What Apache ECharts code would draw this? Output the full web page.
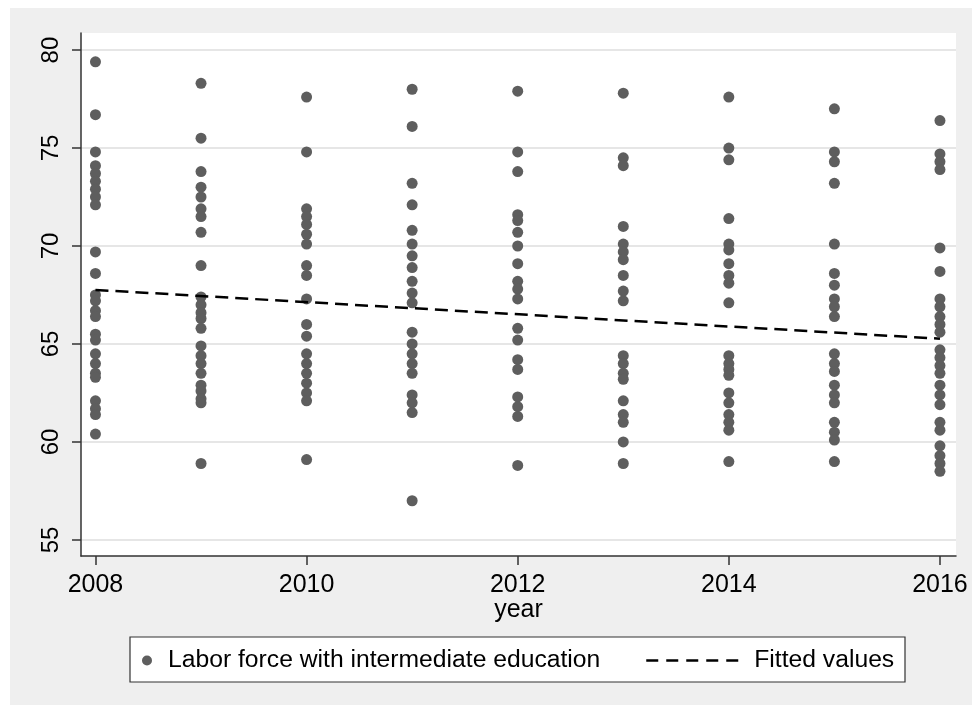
<!DOCTYPE html>
<html>
<head>
<meta charset="utf-8">
<script src="https://cdn.jsdelivr.net/npm/echarts@6/dist/echarts.min.js"></script>
<style>
html,body{margin:0;padding:0;background:#fff;}
#chart{width:972px;height:709px;}
</style>
</head>
<body>
<div id="chart"></div>
<script>
// ---- data ----
var years = [2008, 2009, 2010, 2011, 2012, 2013, 2014, 2015, 2016];
var v2008 = [79.4, 76.7, 74.8, 74.1, 73.7, 73.3, 72.9, 72.5, 72.1, 69.7, 68.6, 67.5, 67.2, 66.7, 66.4, 65.5, 65.2, 64.5, 64.0, 63.5, 63.3, 62.1, 61.7, 61.4, 60.4];
var v2009 = [78.3, 75.5, 73.8, 73.0, 72.5, 71.9, 71.5, 70.7, 69.0, 67.4, 67.0, 66.6, 66.3, 65.8, 64.9, 64.4, 64.0, 63.5, 62.9, 62.6, 62.2, 62.0, 58.9];
var v2010 = [77.6, 74.8, 71.9, 71.5, 71.1, 70.6, 70.1, 69.0, 68.5, 67.3, 66.0, 65.4, 64.5, 64.0, 63.5, 63.0, 62.5, 62.1, 59.1];
var v2011 = [78.0, 76.1, 73.2, 72.1, 70.8, 70.1, 69.5, 68.9, 68.2, 67.6, 67.1, 65.6, 65.0, 64.5, 64.0, 63.5, 62.4, 62.0, 61.5, 57.0];
var v2012 = [77.9, 74.8, 73.8, 71.6, 71.3, 70.7, 70.0, 69.1, 68.2, 67.8, 67.3, 65.8, 65.2, 64.2, 63.7, 62.3, 61.8, 61.3, 58.8];
var v2013 = [77.8, 74.5, 74.1, 71.0, 70.1, 69.7, 69.3, 68.5, 67.7, 67.2, 64.4, 64.0, 63.5, 63.2, 62.1, 61.4, 61.0, 60.0, 58.9];
var v2014 = [77.6, 75.0, 74.4, 71.4, 70.1, 69.8, 69.1, 68.5, 68.1, 67.1, 64.4, 64.0, 63.7, 63.4, 62.5, 62.0, 61.4, 61.0, 60.6, 59.0];
var v2015 = [77.0, 74.8, 74.3, 73.2, 70.1, 68.6, 68.0, 67.3, 66.9, 66.4, 64.5, 64.0, 63.6, 62.9, 62.4, 62.0, 61.0, 60.5, 60.1, 59.0];
var v2016 = [76.4, 74.7, 74.3, 73.9, 69.9, 68.7, 67.3, 66.9, 66.4, 66.0, 65.6, 64.7, 64.3, 63.9, 63.5, 62.9, 62.4, 61.9, 61.0, 60.6, 59.8, 59.3, 58.9, 58.5];
var fitYears = [2008, 2016];
var fitValues = [67.76, 65.27];
var yTicks = [55, 60, 65, 70, 75, 80];
var xTicks = [2008, 2010, 2012, 2014, 2016];
var seriesNames = ['Labor force with intermediate education', 'Fitted values'];
var xTitle = 'year';

// ---- build ----
var byYear = [v2008, v2009, v2010, v2011, v2012, v2013, v2014, v2015, v2016];
var scatterData = [];
byYear.forEach(function (vals, i) {
  vals.forEach(function (v) { scatterData.push([years[i], v]); });
});
var fitData = fitYears.map(function (y, i) { return [y, fitValues[i]]; });

var FONT = '"Liberation Sans", Arial, sans-serif';
var chart = echarts.init(document.getElementById('chart'), null, {renderer: 'canvas'});
chart.setOption({
  backgroundColor: '#ffffff',
  animation: false,
  textStyle: {fontFamily: FONT, color: '#000'},
  graphic: [
    {type: 'rect', z: -10, silent: true, shape: {x: 10, y: 8, width: 962, height: 697}, style: {fill: '#efefef'}},
    {type: 'rect', z: -5, silent: true, shape: {x: 130, y: 637, width: 775, height: 45}, style: {fill: '#ffffff', stroke: '#333', lineWidth: 1.2}}
  ],
  grid: {
    left: 81, right: 16, top: 33, bottom: 153,
    show: true, backgroundColor: '#ffffff', borderWidth: 0
  },
  xAxis: {
    type: 'value', min: 2007.863, max: 2016.152,
    name: xTitle, nameLocation: 'middle', nameGap: 42, nameMoveOverlap: false,
    nameTextStyle: {fontSize: 25, color: '#000', fontFamily: FONT},
    axisLine: {show: true, onZero: false, lineStyle: {color: '#333', width: 1.5}},
    axisTick: {show: true, length: 9, customValues: xTicks, lineStyle: {color: '#333', width: 1.5}},
    axisLabel: {customValues: xTicks, fontSize: 25, color: '#000', margin: 17, fontFamily: FONT,
      formatter: function (v) { return String(v); }},
    splitLine: {show: false}
  },
  yAxis: {
    type: 'value', min: 54.18, max: 80.87,
    axisLine: {show: true, onZero: false, lineStyle: {color: '#333', width: 1.5}},
    axisTick: {show: true, length: 9, customValues: yTicks, lineStyle: {color: '#333', width: 1.5}},
    axisLabel: {customValues: yTicks, rotate: 90, fontSize: 24, color: '#000', margin: 18, fontFamily: FONT,
      formatter: function (v) { return String(v); }},
    splitLine: {show: true, lineStyle: {color: '#e6e6e6', width: 2}}
  },
  legend: [
    {
      data: [seriesNames[0]], left: 142, top: 648, padding: 0,
      itemWidth: 10, itemHeight: 10, icon: 'circle',
      textStyle: {fontSize: 24.7, color: '#000', fontFamily: FONT, padding: [0, 0, 0, 11]}
    },
    {
      data: [seriesNames[1]], left: 645, top: 648, padding: 0,
      itemWidth: 93, itemHeight: 10,
      itemStyle: {opacity: 0},
      lineStyle: {color: '#000', width: 2.5, type: [12, 8]},
      textStyle: {fontSize: 24.7, color: '#000', fontFamily: FONT, padding: [0, 0, 0, 10]}
    }
  ],
  series: [
    {
      name: seriesNames[0], type: 'scatter', data: scatterData,
      symbol: 'circle', symbolSize: 11,
      itemStyle: {color: '#5e5e5e', opacity: 1}
    },
    {
      name: seriesNames[1], type: 'line', data: fitData,
      symbol: 'none', showSymbol: false, z: 3,
      lineStyle: {color: '#000', width: 2.5, type: [13, 7]}
    }
  ]
});
</script>
</body>
</html>
